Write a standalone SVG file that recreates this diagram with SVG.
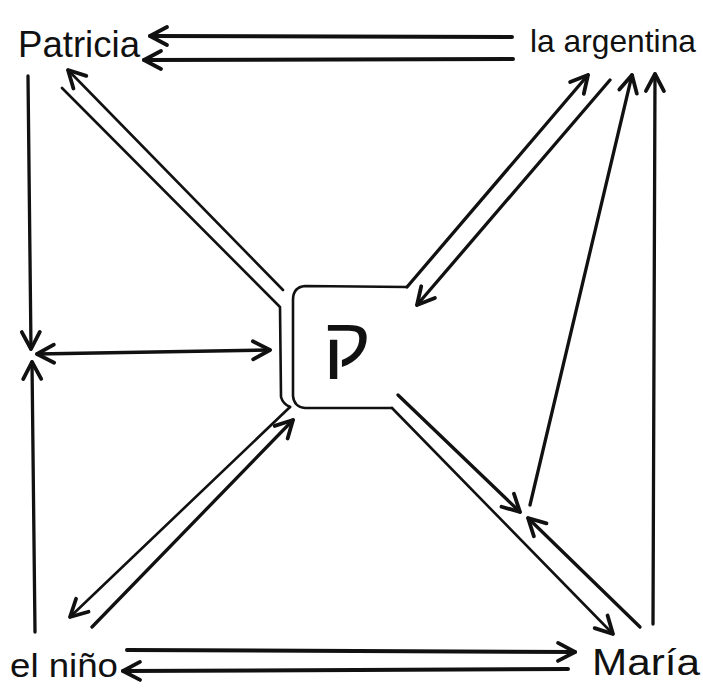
<svg xmlns="http://www.w3.org/2000/svg" width="703" height="689" viewBox="0 0 703 689">
<style>
.lbl{font-family:"Liberation Sans","DejaVu Sans",sans-serif;fill:#111}
.c{fill:none;stroke:#111;stroke-linecap:round;stroke-linejoin:round}
.thick{stroke-width:4}
.mid{stroke-width:3.3}
.thin{stroke-width:2.6}
.arr{marker-end:url(#ah)}
</style>
<defs>
<marker id="ah" viewBox="-19 -11 22 22" refX="0" refY="0" markerWidth="22" markerHeight="22" markerUnits="userSpaceOnUse" orient="auto-start-reverse" overflow="visible">
<path d="M-17,-9 L0,0 L-17,9" fill="none" stroke="#111" stroke-width="3.8" stroke-linecap="round" stroke-linejoin="round"/>
</marker>
</defs>
<rect width="703" height="689" fill="#fff"/>
<g id="patricia"><text class="lbl" x="18" y="57" font-size="37" textLength="122" lengthAdjust="spacingAndGlyphs">Patricia</text></g>
<g id="argentina"><text class="lbl" x="530" y="52" font-size="32" textLength="166" lengthAdjust="spacingAndGlyphs">la argentina</text></g>
<g id="nino"><text class="lbl" x="10" y="677" font-size="33" textLength="108" lengthAdjust="spacingAndGlyphs">el niño</text></g>
<g id="maria"><text class="lbl" x="592" y="675" font-size="37" textLength="108" lengthAdjust="spacingAndGlyphs">María</text></g>
<g id="center">
<path class="c thin" d="M407,287 L305,286 Q293,287 293,300 L293,396 Q294,407 305,408 L392,408"/>
<text class="lbl" x="0" y="0" font-size="68" text-anchor="middle" font-family="'DejaVu Sans',sans-serif" transform="translate(347,366) scale(1.2,1)">ק</text>
</g>
<g id="connectors">
<path class="c thick arr" d="M512,37 L150,36"/>
<path class="c thick arr" d="M513,59 L144,60"/>
<path class="c mid arr" d="M28,76 L31,349"/>
<path class="c mid arr" d="M35,632 L32,362"/>
<path class="c mid arr" d="M37,354 L270,350" style="marker-start:url(#ah)"/>
<path class="c thin arr" d="M283,290 L68,70"/>
<path class="c thin" d="M62,88 L280,307 L281,397 Q283,404 290,407"/>
<path class="c mid arr" d="M407,287 L588,75"/>
<path class="c mid arr" d="M610,80 L417,305"/>
<path class="c mid arr" d="M530,505 L632,75"/>
<path class="c mid arr" d="M653,624 L655,74"/>
<path class="c mid arr" d="M398,395 L520,512"/>
<path class="c mid arr" d="M640,627 L528,518"/>
<path class="c thin arr" d="M392,408 L613,634"/>
<path class="c thin arr" d="M290,407 L70,617"/>
<path class="c mid arr" d="M92,627 L293,420"/>
<path class="c thick arr" d="M127,650 L575,652"/>
<path class="c thick arr" d="M568,669 L123,671"/>
</g>
</svg>
